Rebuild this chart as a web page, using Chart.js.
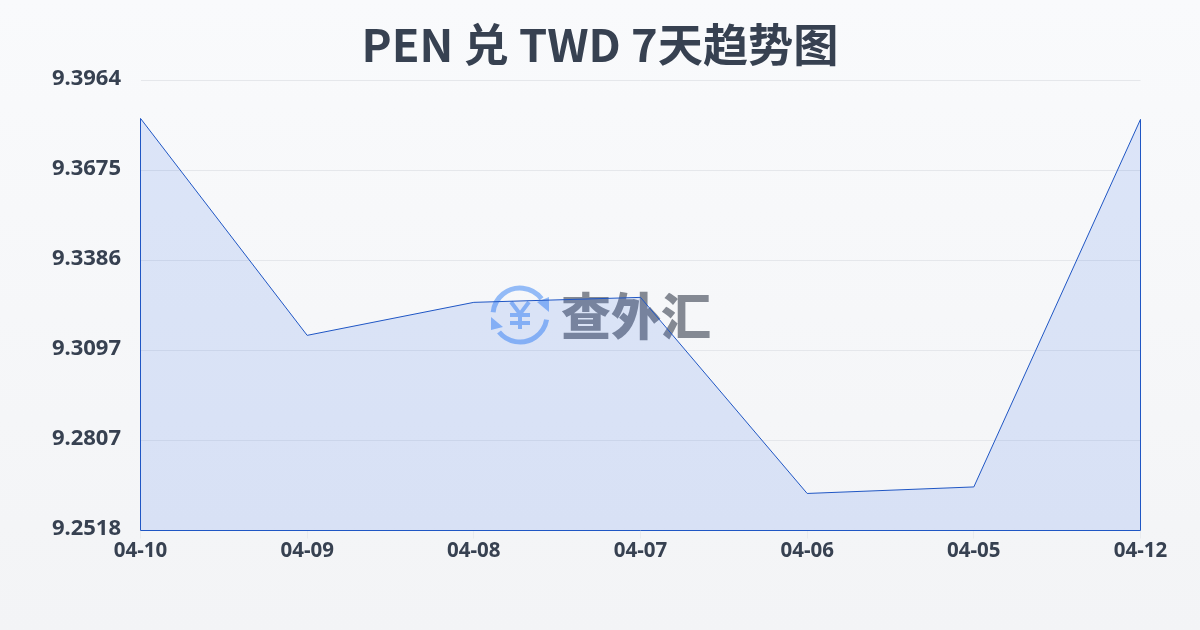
<!DOCTYPE html>
<html lang="zh-CN">
<head>
    <meta charset="UTF-8">
    <title>PEN 兑 TWD 7天趋势图</title>
    <script src="https://cdn.jsdelivr.net/npm/chart.js"></script>
    <style>
        html, body {
            margin: 0;
            padding: 0;
            width: 1200px;
            height: 630px;
            overflow: hidden;
            background: linear-gradient(180deg, #f9fafc, #f3f4f6);
        }
        canvas { display: block; }
    </style>
</head>
<body>
    <canvas id="rateChart" width="1200" height="630"></canvas>

    <script>
        const titleText = 'PEN 兑 TWD 7天趋势图';
        const dates = ['04-10', '04-09', '04-08', '04-07', '04-06', '04-05', '04-12'];
        const rates = [9.3842, 9.3145, 9.3251, 9.3267, 9.2637, 9.2658, 9.3839];
        const yTicks = [9.3964, 9.3675, 9.3386, 9.3097, 9.2807, 9.2518];
        const watermarkText = '查外汇';

        const textColor = '#374151';
        const lineColor = '#1f56c4';
        const sansFont = "'Noto Sans', 'Noto Sans CJK SC', sans-serif";

        function deg(d) {
            return d * Math.PI / 180;
        }

        // Watermark: round arrows with a yen sign, then the site name
        const watermark = {
            id: 'watermark',
            beforeDatasetsDraw(chart) {
                const ctx = chart.ctx;
                const cx = 520, cy = 315, r = 27;
                ctx.save();
                ctx.strokeStyle = '#93bbf7';
                ctx.fillStyle = '#93bbf7';
                ctx.lineWidth = 5;
                ctx.beginPath();
                ctx.arc(cx, cy, r, deg(-174), deg(-37));
                ctx.stroke();
                ctx.beginPath();
                ctx.arc(cx, cy, r, deg(10), deg(141));
                ctx.stroke();
                ctx.beginPath();
                ctx.moveTo(537, 302);
                ctx.lineTo(549, 297);
                ctx.lineTo(549, 312);
                ctx.closePath();
                ctx.fill();
                ctx.beginPath();
                ctx.moveTo(491, 317);
                ctx.lineTo(503, 327);
                ctx.lineTo(491, 330);
                ctx.closePath();
                ctx.fill();
                // yen sign
                ctx.lineWidth = 4;
                ctx.beginPath();
                ctx.moveTo(511, 302);
                ctx.lineTo(520, 314);
                ctx.lineTo(529, 302);
                ctx.moveTo(520, 314);
                ctx.lineTo(520, 329);
                ctx.moveTo(510, 315);
                ctx.lineTo(530, 315);
                ctx.moveTo(510, 323);
                ctx.lineTo(530, 323);
                ctx.stroke();
                ctx.fillStyle = '#848993';
                ctx.textAlign = 'left';
                ctx.textBaseline = 'middle';
                ctx.font = "900 50px 'Noto Sans CJK SC'";
                ctx.fillText(watermarkText, 561, 316);
                ctx.restore();
            }
        };

        // The area outline also runs down both sides and along the bottom
        const areaOutline = {
            id: 'areaOutline',
            afterDatasetsDraw(chart) {
                const x = chart.scales.x, y = chart.scales.y;
                const last = rates.length - 1;
                const ctx = chart.ctx;
                ctx.save();
                ctx.strokeStyle = lineColor;
                ctx.lineWidth = 1;
                ctx.beginPath();
                ctx.moveTo(x.getPixelForValue(0), y.getPixelForValue(rates[0]));
                ctx.lineTo(x.getPixelForValue(0), y.bottom);
                ctx.lineTo(x.getPixelForValue(last), y.bottom);
                ctx.lineTo(x.getPixelForValue(last), y.getPixelForValue(rates[last]));
                ctx.stroke();
                ctx.restore();
            }
        };

        new Chart(document.getElementById('rateChart'), {
            type: 'line',
            data: {
                labels: dates,
                datasets: [{
                    data: rates,
                    borderColor: lineColor,
                    borderWidth: 1,
                    backgroundColor: 'rgba(37, 99, 230, 0.135)',
                    fill: 'start',
                    tension: 0,
                    pointRadius: 0
                }]
            },
            plugins: [watermark, areaOutline],
            options: {
                responsive: false,
                animation: false,
                plugins: {
                    legend: { display: false },
                    tooltip: { enabled: false },
                    title: {
                        display: true,
                        text: titleText,
                        color: textColor,
                        font: { family: "'Noto Sans CJK SC', 'Noto Sans', sans-serif", size: 45.2, weight: 'bold', lineHeight: 1.2 },
                        padding: { top: 18.2, bottom: 8 }
                    }
                },
                scales: {
                    x: {
                        offset: false,
                        afterFit(scale) { scale.height = 99.5; },
                        border: { display: false },
                        grid: {
                            drawOnChartArea: false,
                            color: '#e9ebee',
                            tickLength: 8
                        },
                        ticks: {
                            color: textColor,
                            font: { family: sansFont, size: 20.5, weight: 'bold' },
                            padding: 0,
                            maxRotation: 0,
                            autoSkip: false
                        }
                    },
                    y: {
                        min: 9.2518,
                        max: 9.3964,
                        afterBuildTicks(scale) {
                            scale.ticks = yTicks.map(v => ({ value: v }));
                        },
                        afterFit(scale) { scale.width = 140.5; },
                        border: { display: false },
                        grid: { color: '#e5e7eb', drawTicks: false },
                        ticks: {
                            color: textColor,
                            font: { family: sansFont, size: 22, weight: 'bold' },
                            padding: 19.5,
                            labelOffset: -1.5,
                            callback: value => value.toFixed(4)
                        }
                    },
                    // empty axis that keeps the right margin without moving the title
                    rightMargin: {
                        position: 'right',
                        afterFit(scale) { scale.width = 59.5; },
                        border: { display: false },
                        grid: { display: false },
                        ticks: { display: false }
                    }
                }
            }
        });
    </script>
</body>
</html>
